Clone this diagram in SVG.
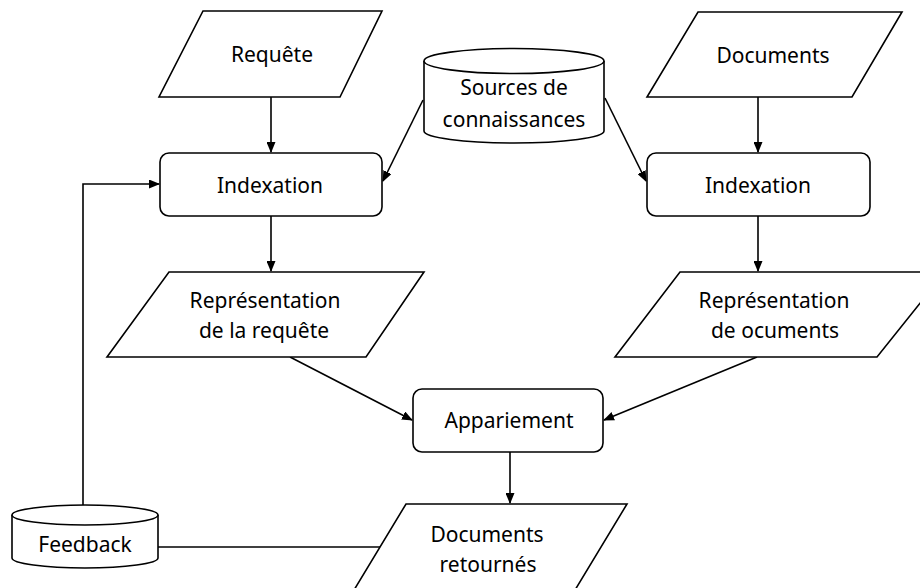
<svg xmlns="http://www.w3.org/2000/svg" width="920" height="588" viewBox="0 0 920 588">
<defs>
<style>
.s{fill:#fff;stroke:#000;stroke-width:1.6}
.c{fill:none;stroke:#000;stroke-width:1.6}
text{font-family:"Noto Sans","Open Sans","DejaVu Sans",sans-serif;font-size:21px;fill:#000;text-anchor:middle}
</style>
<marker id="ah" markerUnits="userSpaceOnUse" markerWidth="11" markerHeight="9" refX="10" refY="4.5" orient="auto" viewBox="0 0 11 9">
<path d="M0,0 L11,4.5 L0,9 z" fill="#000"/>
</marker>
</defs>
<rect width="920" height="588" fill="#fff"/>
<g id="connectors">
<line class="c" x1="271" y1="97" x2="271" y2="152" marker-end="url(#ah)"/>
<line class="c" x1="271" y1="216" x2="271" y2="271" marker-end="url(#ah)"/>
<line class="c" x1="758" y1="97" x2="758" y2="152" marker-end="url(#ah)"/>
<line class="c" x1="758" y1="216" x2="758" y2="271" marker-end="url(#ah)"/>
<line class="c" x1="423" y1="100" x2="383" y2="181" marker-end="url(#ah)"/>
<line class="c" x1="605" y1="98" x2="646" y2="181" marker-end="url(#ah)"/>
<line class="c" x1="290" y1="357" x2="412" y2="420" marker-end="url(#ah)"/>
<line class="c" x1="757" y1="357" x2="604" y2="420" marker-end="url(#ah)"/>
<line class="c" x1="510" y1="452" x2="510" y2="503" marker-end="url(#ah)"/>
<polyline class="c" points="83,505 83,184 159,184" marker-end="url(#ah)"/>
<line class="c" x1="158" y1="547" x2="382" y2="547"/>
</g>
<g id="requete">
<polygon class="s" points="203,11 382,11 340,97 159,97"/>
<text x="272" y="62">Requête</text>
</g>
<g id="sources">
<path class="s" d="M424,61 L424,131 A90,12 0 0 0 604,131 L604,61"/>
<ellipse class="s" cx="514" cy="61" rx="90" ry="12.5"/>
<text x="514" y="95">Sources de</text>
<text x="514" y="127">connaissances</text>
</g>
<g id="documents">
<polygon class="s" points="698,12 902,12 852,97 647,97"/>
<text x="773" y="63">Documents</text>
</g>
<g id="indexation1">
<rect class="s" x="160" y="153" width="222" height="63" rx="9"/>
<text x="270" y="193">Indexation</text>
</g>
<g id="indexation2">
<rect class="s" x="647" y="153" width="223" height="63" rx="9"/>
<text x="758" y="193">Indexation</text>
</g>
<g id="rep-requete">
<polygon class="s" points="169,272 424,272 366,357 107,357"/>
<text x="265" y="308">Représentation</text>
<text x="264" y="338">de la requête</text>
</g>
<g id="rep-documents">
<polygon class="s" points="680,272 945,272 877,357 615,357"/>
<text x="774" y="308">Représentation</text>
<text x="775" y="338">de ocuments</text>
</g>
<g id="appariement">
<rect class="s" x="413" y="389" width="190" height="63" rx="9"/>
<text x="509" y="428">Appariement</text>
</g>
<g id="documents-retournes">
<polygon class="s" points="406,504 627,504 569,600 348,600"/>
<text x="487" y="542">Documents</text>
<text x="488" y="572">retournés</text>
</g>
<g id="feedback">
<path class="s" d="M12,515 L12,558 A73,10 0 0 0 158,558 L158,515"/>
<ellipse class="s" cx="85" cy="515" rx="73" ry="10"/>
<text x="85" y="552">Feedback</text>
</g>
</svg>
